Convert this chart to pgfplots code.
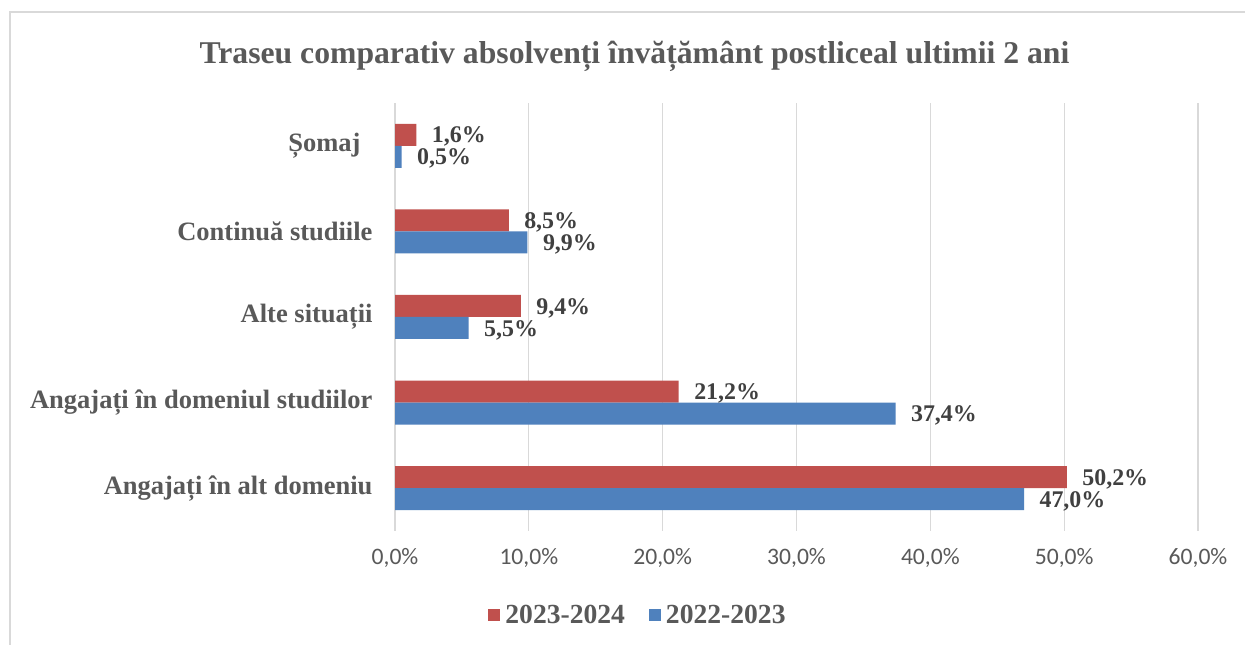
\documentclass[border=0pt]{standalone}
\usepackage{pgfplots}
\pgfplotsset{compat=1.18}
\usepackage{fontspec}
\setmainfont{Liberation Serif}
\newfontfamily\tickfont{Carlito}
\definecolor{cred}{HTML}{C0504D}
\definecolor{cblue}{HTML}{4F81BD}
\definecolor{tgray}{HTML}{595959}
\definecolor{dgray}{HTML}{404040}
\definecolor{ggray}{HTML}{D9D9D9}
\begin{document}
\begin{tikzpicture}[x=1bp,y=1bp]
\useasboundingbox (0,0) rectangle (1245,645);
\fill[white] (0,0) rectangle (1245,645);
\draw[ggray, line width=2bp] (10,0) -- (10,633) -- (1245,633);
\node[text=tgray, font=\bfseries\fontsize{31.8}{36}\selectfont] at (634.5,589) {Traseu comparativ absolvenți învățământ postliceal ultimii 2 ani};
\begin{axis}[
  at={(395bp,114bp)}, anchor=south west,
  scale only axis, width=803bp, height=428bp,
  xbar, bar width=22bp,
  xmin=0, xmax=60, ymin=-0.5, ymax=4.5,
  xtick={0,10,...,60},
  ytick={0,1,2,3,4},
  yticklabels={Angajați în alt domeniu, Angajați în domeniul studiilor, Alte situații, Continuă studiile, Șomaj\hspace*{12bp}},
  axis line style={draw=none},
  major tick length=0pt,
  xmajorgrids, grid style={ggray, line width=1.3bp},
  xticklabel={\pgfmathprintnumber[fixed,fixed zerofill,precision=1,use comma,assume math mode=true]{\tick}\%},
  xticklabel style={font=\tickfont\fontsize{23.7}{26}\selectfont, text=tgray, yshift=-14bp},
  yticklabel style={font=\bfseries\fontsize{26.6}{30}\selectfont, text=tgray, xshift=-19bp},
  nodes near coords={\pgfmathprintnumber[fixed,fixed zerofill,precision=1,use comma,assume math mode=true]{\pgfplotspointmeta}\%},
  nodes near coords style={font=\bfseries\fontsize{24}{27}\selectfont, text=dgray, anchor=west, xshift=12bp, yshift=-2bp},
  legend columns=2,
  legend style={draw=none, fill=none, at={(0.3026,-0.196)}, anchor=center,
    font=\bfseries\fontsize{27.7}{30}\selectfont, text=tgray,
    /tikz/every even column/.append style={column sep=22bp}},
  legend image code/.code={\fill[#1] (0bp,-6bp) rectangle (12bp,6bp); \path (15bp,0bp);},
]
\addplot[fill=cred, draw=none, bar shift=11bp] coordinates {(50.2,0) (21.2,1) (9.4,2) (8.5,3) (1.6,4)};
\addplot[fill=cblue, draw=none, bar shift=-11bp] coordinates {(47.0,0) (37.4,1) (5.5,2) (9.9,3) (0.5,4)};
\legend{2023-2024, 2022-2023}
\end{axis}
\end{tikzpicture}
\end{document}
